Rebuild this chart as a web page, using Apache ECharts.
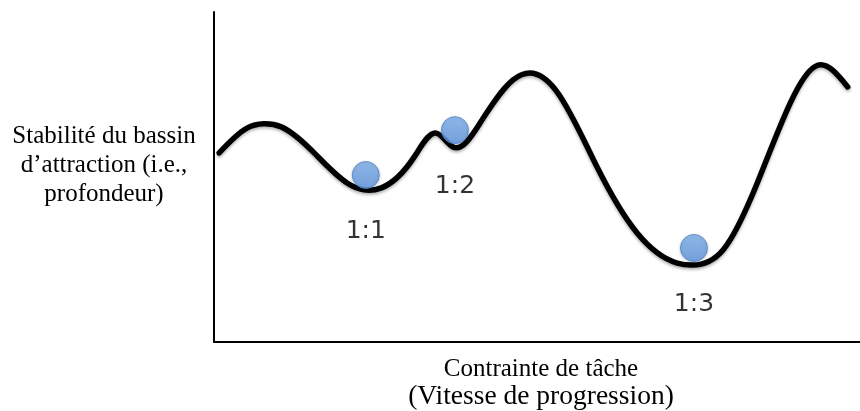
<!DOCTYPE html>
<html>
<head>
<meta charset="utf-8">
<script src="https://cdn.jsdelivr.net/npm/echarts@6/dist/echarts.min.js"></script>
<style>
html,body{margin:0;padding:0;background:#fff;}
#chart{width:860px;height:411px;}
</style>
</head>
<body>
<div id="chart"></div>
<script>
// Landscape curve: task constraint (x) vs basin stability (y), arbitrary units 0-100
const curveX = [0.8, 5.1, 7.7, 10.4, 15.5, 20.6, 23.2, 25.9, 31.0, 34.4, 37.0, 41.2, 46.3, 48.9, 53.1, 59.3, 65.5, 71.7, 74.1, 78.8, 84.1, 89.2, 93.5, 98.1];
const curveY = [57.3, 64.8, 66.1, 65.2, 57.3, 48.2, 46.1, 46.7, 56.1, 63.3, 59.1, 66.4, 79.4, 81.5, 75.8, 53.0, 33.0, 23.9, 23.3, 27.9, 48.2, 72.4, 83.9, 77.3];

// Attractor balls (coordination patterns)
const ballLabels = ['1:1', '1:2', '1:3'];
const ballX = [23.5, 37.3, 74.3];
const ballY = [50.6, 64.2, 28.5];

const yTitle = ['Stabilité du bassin', 'd\u2019attraction (i.e.,', 'profondeur)'];
const xTitle = ['Contrainte de tâche', '(Vitesse de progression)'];

const chart = echarts.init(document.getElementById('chart'), null, {renderer: 'canvas'});
const serif = '"Liberation Serif", "Times New Roman", serif';

// Draws a natural cubic spline through the data points (in pixel space, via the axes' scales)
function renderCurve(params, api) {
  if (params.dataIndex !== 0) return null;
  const n = curveX.length;
  const pts = curveX.map((x, i) => api.coord([x, curveY[i]]));
  const xs = pts.map(p => p[0]), ys = pts.map(p => p[1]);
  const h = [];
  for (let i = 0; i < n - 1; i++) h.push(xs[i + 1] - xs[i]);
  const M = new Array(n).fill(0);
  const k = n - 2;
  if (k > 0) {
    const a = [], b = [], c = [], r = [];
    for (let j = 0; j < k; j++) {
      const i = j + 1;
      a.push(h[i - 1]); b.push(2 * (h[i - 1] + h[i])); c.push(h[i]);
      r.push(6 * ((ys[i + 1] - ys[i]) / h[i] - (ys[i] - ys[i - 1]) / h[i - 1]));
    }
    for (let j = 1; j < k; j++) {
      const w = a[j] / b[j - 1];
      b[j] -= w * c[j - 1];
      r[j] -= w * r[j - 1];
    }
    const sol = new Array(k);
    sol[k - 1] = r[k - 1] / b[k - 1];
    for (let j = k - 2; j >= 0; j--) sol[j] = (r[j] - c[j] * sol[j + 1]) / b[j];
    for (let j = 0; j < k; j++) M[j + 1] = sol[j];
  }
  let d = 'M' + xs[0] + ',' + ys[0];
  for (let i = 0; i < n - 1; i++) {
    const hi = h[i];
    const dy = (ys[i + 1] - ys[i]) / hi;
    const s0 = dy - hi * (2 * M[i] + M[i + 1]) / 6;
    const s1 = dy + hi * (M[i] + 2 * M[i + 1]) / 6;
    const c1x = xs[i] + hi / 3, c1y = ys[i] + s0 * hi / 3;
    const c2x = xs[i + 1] - hi / 3, c2y = ys[i + 1] - s1 * hi / 3;
    d += ' C' + c1x + ',' + c1y + ' ' + c2x + ',' + c2y + ' ' + xs[i + 1] + ',' + ys[i + 1];
  }
  return {
    type: 'path',
    shape: {pathData: d},
    style: {
      fill: null, stroke: '#000', lineWidth: 5.5, lineCap: 'round', lineJoin: 'round',
      shadowColor: 'rgba(0,0,0,0.3)', shadowBlur: 3, shadowOffsetY: 2
    }
  };
}

chart.setOption({
  animation: false,
  backgroundColor: '#ffffff',
  grid: {left: 214, right: 0, top: 12, bottom: 69, containLabel: false},
  xAxis: {
    type: 'value', min: 0, max: 100,
    axisLine: {show: true, onZero: false, lineStyle: {color: '#000', width: 2}},
    axisTick: {show: false}, axisLabel: {show: false}, splitLine: {show: false}
  },
  yAxis: {
    type: 'value', min: 0, max: 100,
    axisLine: {show: true, onZero: false, lineStyle: {color: '#000', width: 2}},
    axisTick: {show: false}, axisLabel: {show: false}, splitLine: {show: false}
  },
  graphic: [
    {
      type: 'text', x: 104, y: 122,
      style: {
        text: yTitle.join('\n'), fill: '#000', font: '25px ' + serif,
        align: 'center', verticalAlign: 'top', lineHeight: 29
      }
    },
    {
      type: 'text', x: 541, y: 355,
      style: {
        text: '{a|' + xTitle[0] + '}\n{b|' + xTitle[1] + '}',
        fill: '#000', align: 'center', verticalAlign: 'top',
        rich: {
          a: {fontFamily: serif, fontSize: 25, lineHeight: 28, fill: '#000'},
          b: {fontFamily: serif, fontSize: 27.5, lineHeight: 28, fill: '#000'}
        }
      }
    }
  ],
  series: [
    {
      type: 'custom',
      data: curveX.map((x, i) => [x, curveY[i]]),
      encode: {x: 0, y: 1},
      renderItem: renderCurve,
      clip: false,
      z: 2
    },
    {
      type: 'scatter',
      data: ballX.map((x, i) => ({value: [x, ballY[i]], name: ballLabels[i]})),
      symbol: 'circle',
      symbolSize: 27,
      itemStyle: {
        color: {
          type: 'linear', x: 0, y: 0, x2: 0, y2: 1,
          colorStops: [{offset: 0, color: '#80b3ee'}, {offset: 1, color: '#5c93de'}]
        },
        borderColor: '#4f86d0', borderWidth: 1,
        shadowColor: 'rgba(0,0,0,0.25)', shadowBlur: 3, shadowOffsetY: 1
      },
      label: {
        show: true, position: 'bottom', distance: 30,
        formatter: p => p.name,
        color: '#000', fontSize: 25, fontFamily: '"DejaVu Sans", sans-serif',
        textBorderWidth: 0
      },
      z: 3
    }
  ]
});
</script>
</body>
</html>
